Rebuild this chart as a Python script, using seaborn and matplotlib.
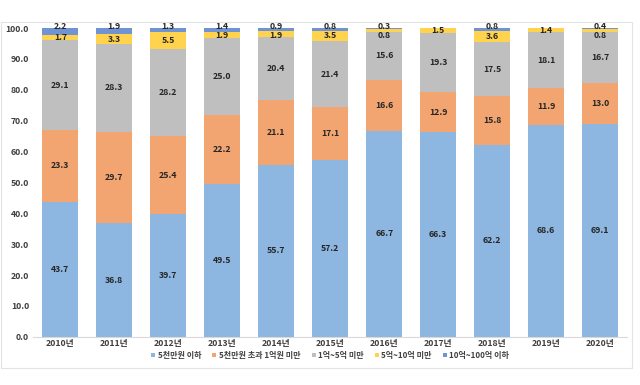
import numpy as np
import pandas as pd
import matplotlib
matplotlib.use("Agg")
import matplotlib.pyplot as plt
import seaborn as sns

# years and shares (%) per asset bracket
years = ["2010년", "2011년", "2012년", "2013년", "2014년", "2015년",
         "2016년", "2017년", "2018년", "2019년", "2020년"]
under_50m = [43.7, 36.8, 39.7, 49.5, 55.7, 57.2, 66.7, 66.3, 62.2, 68.6, 69.1]
m50_to_100m = [23.3, 29.7, 25.4, 22.2, 21.1, 17.1, 16.6, 12.9, 15.8, 11.9, 13.0]
b1_to_5 = [29.1, 28.3, 28.2, 25.0, 20.4, 21.4, 15.6, 19.3, 17.5, 18.1, 16.7]
b5_to_10 = [1.7, 3.3, 5.5, 1.9, 1.9, 3.5, 0.8, 1.5, 3.6, 1.4, 0.8]
b10_to_100 = [2.2, 1.9, 1.3, 1.4, 0.9, 0.8, 0.3, 0.0, 0.8, 0.0, 0.4]

labels = ["5천만원 이하", "5천만원 초과 1억원 미만", "1억~5억 미만", "5억~10억 미만", "10억~100억 이하"]
colors = ["#8db6e1", "#f2a571", "#bfbfbf", "#ffd34d", "#6f93d3"]
series = [under_50m, m50_to_100m, b1_to_5, b5_to_10, b10_to_100]

sns.set_theme(style="white")
plt.rcParams['font.family'] = ['Noto Sans CJK KR', 'DejaVu Sans']

fig = plt.figure(figsize=(6.4, 3.85), dpi=100)
# light frame around the whole chart
fig.patches.append(plt.Rectangle((0.002, 0.045), 0.985, 0.897, transform=fig.transFigure,
                                 fill=False, edgecolor="#e3e3e3", linewidth=0.8))
ax = fig.add_axes([0.052, 0.125, 0.928, 0.802])

bottom = np.zeros(len(years))
for vals, lab, col in zip(series, labels, colors):
    df = pd.DataFrame({"year": years, "val": vals})
    sns.barplot(data=df, x="year", y="val", color=col, bottom=bottom, width=0.66,
                label=lab, ax=ax, saturation=1, edgecolor="none")
    bottom += np.array(vals)

txt_style = dict(fontsize=6.3, fontweight="bold", color="#262626")

# data labels: the three big series centred in their segments
for cont, vals in zip(ax.containers[:3], series[:3]):
    ax.bar_label(cont, labels=[f"{v:.1f}" for v in vals], label_type="center", **txt_style)

# the two thin top segments are nudged apart so they stay readable
for i, p_y in enumerate(ax.containers[3].patches):
    xc = p_y.get_x() + p_y.get_width() / 2
    yc = p_y.get_y() + p_y.get_height() / 2
    if b10_to_100[i] > 0:
        yc = min(yc, 97.5)
        ax.text(xc, 100.6, f"{b10_to_100[i]:.1f}", ha="center", va="center", **txt_style)
    ax.text(xc, yc, f"{b5_to_10[i]:.1f}", ha="center", va="center", **txt_style)

ax.set_ylim(0, 100)
ax.set_xlim(-0.5, 10.5)
ax.set_yticks(np.arange(0, 101, 10))
ax.set_yticklabels([f"{t:.1f}" for t in np.arange(0, 101, 10)])
ax.tick_params(axis="both", labelsize=6.3, colors="#404040", length=0, pad=3)
ax.tick_params(axis="x", pad=1.5)
for t in ax.get_xticklabels() + ax.get_yticklabels():
    t.set_fontweight("bold")
ax.set_xlabel("")
ax.set_ylabel("")
for s in ["top", "right", "left"]:
    ax.spines[s].set_visible(False)
ax.spines["bottom"].set_color("#d9d9d9")
ax.spines["bottom"].set_linewidth(0.8)

leg = ax.legend(loc="center", bbox_to_anchor=(0.5, -0.06), ncol=5, frameon=False,
                fontsize=5.8, handlelength=0.5, handleheight=0.5, handletextpad=0.3,
                columnspacing=1.4)
for t in leg.get_texts():
    t.set_fontweight("bold")
    t.set_color("#404040")

fig.savefig("out.png", dpi=100)
